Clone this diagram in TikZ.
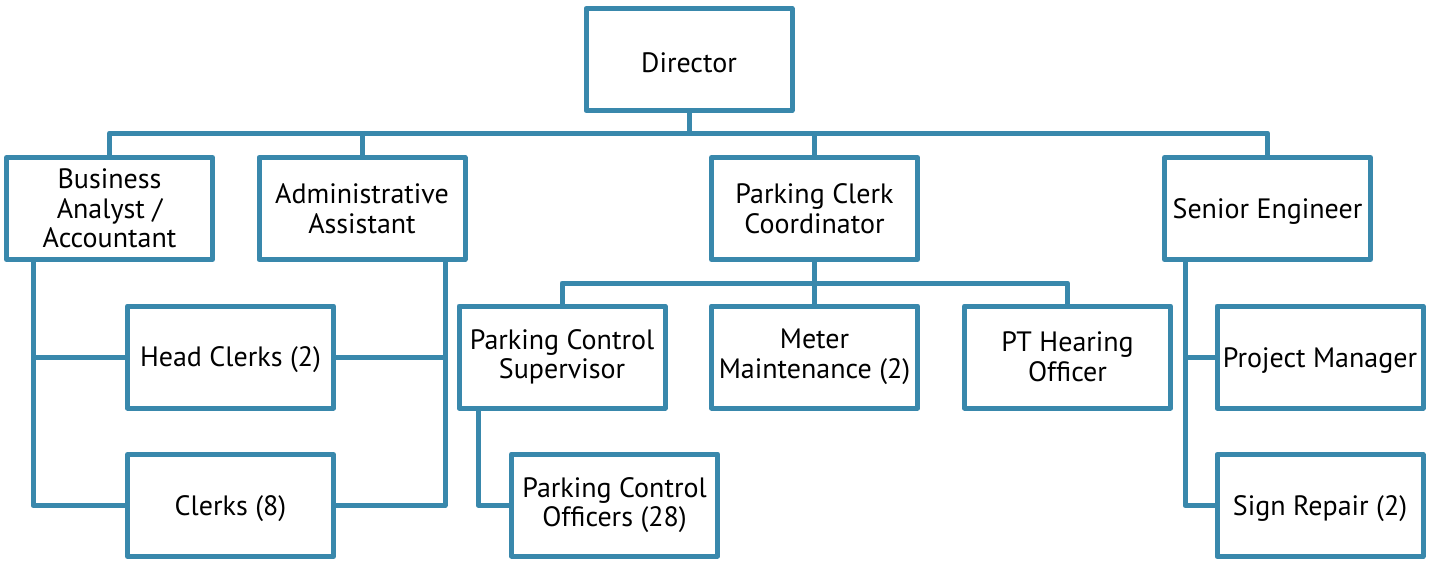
\documentclass[tikz,border=0pt]{standalone}
\usepackage{fontspec}
\setmainfont{PT Sans}
\usetikzlibrary{calc}
\definecolor{orgblue}{RGB}{57,136,172}
\tikzset{
  orgbox/.style={draw=orgblue, line width=5pt, fill=white, minimum width=206pt, minimum height=102pt,
    align=center, inner sep=2pt, line join=round, font=\fontsize{28}{29.5}\selectfont, text=black,
    execute at begin node={\rule{0pt}{26pt}}},
  link/.style={draw=orgblue, line width=5pt, line join=round}
}
\begin{document}
\begin{tikzpicture}[x=1pt,y=-1pt]
\useasboundingbox (0,0) rectangle (1432,562);
\coordinate (bus) at (689,133);
\coordinate (pbus) at (815,283);
\node[orgbox] (dir) at (689,59.5) {Director};
\node[orgbox] (ba) at (109.5,208.5) {Business\\Analyst /\\Accountant};
\node[orgbox] (aa) at (362,208.5) {Administrative\\Assistant};
\node[orgbox] (pcc) at (814.5,208.5) {Parking Clerk\\Coordinator};
\node[orgbox] (se) at (1267.5,208.5) {Senior Engineer};
\node[orgbox] (hc) at (230.5,357) {Head Clerks (2)};
\node[orgbox] (cl) at (230.5,505.5) {Clerks (8)};
\node[orgbox] (pcs) at (562,357) {Parking Control\\Supervisor};
\node[orgbox] (pco) at (614.5,505) {Parking Control\\Officers (28)};
\node[orgbox] (mm) at (814.5,357) {Meter\\Maintenance (2)};
\node[orgbox] (pth) at (1067.5,357) {PT Hearing\\Officer};
\node[orgbox] (pm) at (1320,357) {Project Manager};
\node[orgbox] (sr) at (1320,505.5) {Sign Repair (2)};
\coordinate (bal) at ($(ba.south)+(-76.5,0)$);
\coordinate (aar) at ($(aa.south)+(83,0)$);
\coordinate (pcsl) at ($(pcs.south)+(-84,0)$);
\coordinate (sel) at ($(se.south)+(-82.5,0)$);
\path[link] (dir.south) -- (dir.south |- bus);
\path[link] (ba.north) |- (bus) -| (se.north);
\path[link] (aa.north) -- (aa.north |- bus);
\path[link] (pcc.north) -- (pcc.north |- bus);
\path[link] (bal) |- (cl.west);
\path[link] (bal |- hc.west) -- (hc.west);
\path[link] (aar) |- (cl.east);
\path[link] (hc.east) -- (hc.east -| aar);
\path[link] (pcc.south) -- (mm.north);
\path[link] (pcs.north) |- (pbus) -| (pth.north);
\path[link] (pcsl) |- (pco.west);
\path[link] (sel) |- (sr.west);
\path[link] (pm.west) -- (pm.west -| sel);
\end{tikzpicture}
\end{document}
